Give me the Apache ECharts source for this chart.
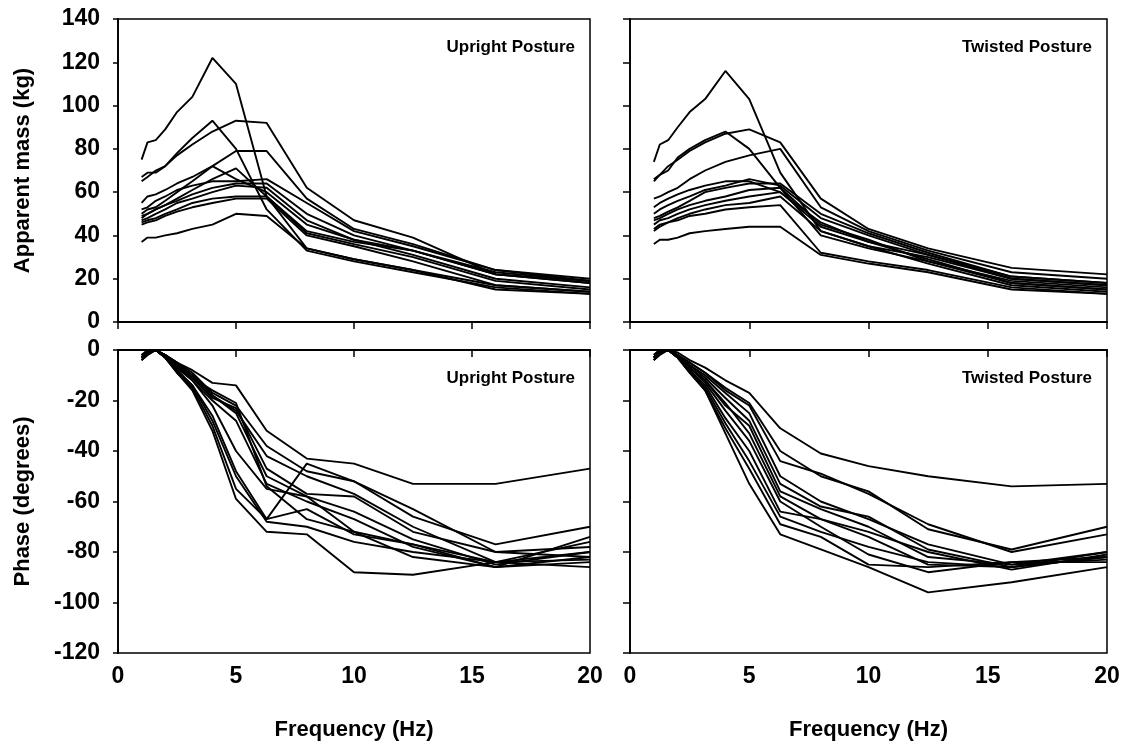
<!DOCTYPE html>
<html>
<head>
<meta charset="utf-8">
<title>Apparent mass and phase</title>
<script src="https://cdn.jsdelivr.net/npm/echarts/dist/echarts.min.js"></script>
<style>
  html, body { margin: 0; padding: 0; background: #fff; }
  #main { width: 1132px; height: 754px; }
</style>
</head>
<body>
<div id="main"></div>
<script>
// third-octave centre frequencies (Hz)
var freq = [1, 1.25, 1.6, 2, 2.5, 3.15, 4, 5, 6.3, 8, 10, 12.5, 16, 20];

// apparent mass (kg), one row per subject
var massUpright = [
  [75, 83, 84, 89, 97, 104, 122, 110, 58, 34, 29, 24, 17, 14],
  [67, 69, 69, 72, 78, 85, 93, 80, 52, 33, 28, 23, 16, 13],
  [65, 67, 70, 72, 77, 82, 88, 93, 92, 62, 47, 39, 22, 19],
  [55, 58, 59, 61, 64, 67, 72, 79, 79, 57, 43, 36, 24, 19],
  [50, 52, 53, 56, 60, 65, 72, 66, 60, 45, 38, 33, 22, 18],
  [48, 50, 52, 54, 57, 61, 66, 71, 58, 42, 37, 33, 23, 19],
  [52, 53, 56, 58, 61, 63, 65, 65, 66, 55, 42, 35, 24, 20],
  [49, 50, 52, 54, 56, 59, 62, 64, 64, 50, 40, 33, 22, 18],
  [47, 48, 50, 52, 55, 57, 60, 63, 62, 47, 38, 31, 20, 16],
  [46, 47, 48, 50, 52, 55, 57, 58, 58, 41, 36, 30, 19, 15],
  [45, 46, 47, 49, 51, 53, 55, 57, 57, 40, 35, 28, 17, 14],
  [37, 39, 39, 40, 41, 43, 45, 50, 49, 34, 29, 24, 15, 13]
];
var massTwisted = [
  [74, 82, 84, 90, 97, 103, 116, 103, 69, 42, 35, 30, 20, 17],
  [66, 68, 70, 76, 80, 84, 88, 80, 62, 40, 34, 28, 19, 16],
  [65, 68, 72, 75, 79, 83, 87, 89, 83, 57, 43, 34, 25, 22],
  [57, 58, 60, 62, 66, 70, 74, 77, 80, 53, 42, 33, 23, 20],
  [53, 55, 57, 59, 61, 63, 65, 65, 60, 44, 37, 31, 21, 18],
  [50, 52, 54, 56, 58, 61, 63, 66, 63, 48, 40, 31, 20, 17],
  [48, 49, 51, 53, 56, 60, 62, 64, 64, 50, 41, 32, 21, 18],
  [47, 48, 50, 52, 54, 56, 58, 61, 62, 45, 38, 28, 18, 15],
  [45, 47, 48, 50, 52, 54, 56, 58, 60, 46, 37, 29, 18, 15],
  [43, 45, 46, 48, 50, 52, 54, 55, 58, 42, 35, 27, 17, 14],
  [42, 44, 46, 47, 49, 50, 52, 53, 54, 32, 28, 24, 16, 13],
  [36, 38, 38, 39, 41, 42, 43, 44, 44, 31, 27, 23, 15, 13]
];

// phase (degrees)
var phaseUpright = [
  [-2, -1, 0, -2, -5, -8, -13, -14, -32, -43, -45, -53, -53, -47],
  [-3, -1, 0, -2, -5, -9, -17, -22, -38, -48, -52, -66, -77, -70],
  [-4, -1, 0, -2, -5, -10, -18, -24, -42, -50, -57, -70, -84, -76],
  [-2, 0, 0, -2, -6, -11, -19, -23, -47, -57, -58, -72, -80, -78],
  [-3, -1, 0, -2, -6, -10, -18, -25, -50, -58, -64, -75, -85, -80],
  [-4, -2, 0, -3, -7, -12, -20, -28, -53, -60, -67, -78, -86, -82],
  [-3, -1, 0, -3, -7, -11, -16, -21, -54, -67, -72, -77, -84, -83],
  [-2, -1, 0, -3, -8, -14, -26, -48, -67, -45, -52, -63, -80, -82],
  [-3, -1, 0, -3, -9, -16, -32, -59, -72, -73, -88, -89, -84, -86],
  [-4, -2, 0, -3, -9, -15, -30, -55, -67, -63, -73, -77, -86, -74],
  [-3, -1, 0, -3, -8, -14, -28, -50, -68, -70, -76, -80, -84, -80],
  [-3, -1, 0, -3, -7, -12, -22, -40, -55, -58, -72, -82, -86, -84]
];
var phaseTwisted = [
  [-3, -1, 0, -1, -4, -7, -12, -17, -31, -41, -46, -50, -54, -53],
  [-4, -1, 0, -2, -5, -9, -15, -21, -40, -50, -56, -71, -79, -70],
  [-2, 0, 0, -2, -5, -9, -16, -22, -44, -49, -57, -69, -80, -73],
  [-3, -1, 0, -2, -6, -10, -17, -25, -50, -60, -67, -77, -85, -80],
  [-3, -1, 0, -2, -6, -11, -19, -28, -53, -62, -66, -79, -86, -82],
  [-4, -1, 0, -3, -7, -12, -22, -30, -56, -63, -70, -82, -85, -83],
  [-3, -1, 0, -3, -7, -12, -21, -33, -58, -67, -74, -85, -86, -82],
  [-3, -1, 0, -3, -8, -14, -27, -40, -64, -67, -72, -80, -87, -81],
  [-4, -2, 0, -3, -9, -16, -31, -47, -69, -74, -85, -86, -84, -82],
  [-3, -1, 0, -3, -9, -16, -33, -53, -73, -79, -86, -96, -92, -86],
  [-2, 0, 0, -3, -8, -15, -29, -44, -66, -72, -78, -84, -86, -80],
  [-3, -1, 0, -2, -7, -13, -24, -36, -60, -70, -81, -88, -84, -84]
];

var panelLabels = ['Upright Posture', 'Twisted Posture', 'Upright Posture', 'Twisted Posture'];

var font = '"Liberation Sans", Arial, Helvetica, sans-serif';
var ink = '#000';

var myChart = echarts.init(document.getElementById('main'));

var grids = [
  { left: 118, top: 19, width: 472, height: 303 },
  { left: 630, top: 19, width: 477, height: 303 },
  { left: 118, top: 350, width: 472, height: 303 },
  { left: 630, top: 350, width: 477, height: 303 }
];
grids.forEach(function (g) {
  g.show = true;
  g.borderColor = ink;
  g.borderWidth = 1.5;
  g.containLabel = false;
});

function xAxisFor(i) {
  var bottomRow = i >= 2;
  return {
    type: 'value', gridIndex: i, min: 0, max: 20, interval: 5,
    name: bottomRow ? 'Frequency (Hz)' : '',
    nameLocation: 'middle', nameGap: 66,
    nameTextStyle: { fontFamily: font, fontWeight: 'bold', fontSize: 22, color: ink },
    axisLine: { show: true, lineStyle: { color: ink, width: 1.8 } },
    axisTick: { show: true, inside: false, length: 7, lineStyle: { color: ink, width: 1.5 } },
    axisLabel: { show: bottomRow, margin: 12, fontFamily: font, fontWeight: 'bold', fontSize: 23, color: ink },
    splitLine: { show: false }
  };
}

function yAxisFor(i) {
  var topRow = i < 2;
  var leftCol = i % 2 === 0;
  return {
    type: 'value', gridIndex: i,
    min: topRow ? 0 : -120, max: topRow ? 140 : 0, interval: 20,
    name: leftCol ? (topRow ? 'Apparent mass (kg)' : 'Phase (degrees)') : '',
    nameLocation: 'middle', nameGap: 84, nameRotate: 90,
    nameTextStyle: { fontFamily: font, fontWeight: 'bold', fontSize: 22, color: ink },
    axisLine: { show: true, lineStyle: { color: ink, width: 1.8 } },
    axisTick: { show: true, inside: false, length: leftCol ? 5 : 7, lineStyle: { color: ink, width: 1.5 } },
    axisLabel: { show: leftCol, margin: 18, fontFamily: font, fontWeight: 'bold', fontSize: 23, color: ink },
    splitLine: { show: false }
  };
}

// one series per subject and panel
var series = [];
[massUpright, massTwisted, phaseUpright, phaseTwisted].forEach(function (rows, p) {
  rows.forEach(function (row) {
    series.push({
      type: 'line', xAxisIndex: p, yAxisIndex: p,
      data: row.map(function (v, k) { return [freq[k], v]; }),
      showSymbol: false, silent: true,
      lineStyle: { color: '#000', width: 1.9 },
      animation: false
    });
  });
});

var titles = panelLabels.map(function (txt, i) {
  var g = grids[i];
  return {
    text: txt,
    right: 1132 - (g.left + g.width) + 10,
    top: g.top + 15,
    textStyle: { fontFamily: font, fontWeight: 'bold', fontSize: 17, color: ink }
  };
});

myChart.setOption({
  backgroundColor: '#fff',
  animation: false,
  title: titles,
  grid: grids,
  xAxis: [0, 1, 2, 3].map(xAxisFor),
  yAxis: [0, 1, 2, 3].map(yAxisFor),
  series: series
});
</script>
</body>
</html>
